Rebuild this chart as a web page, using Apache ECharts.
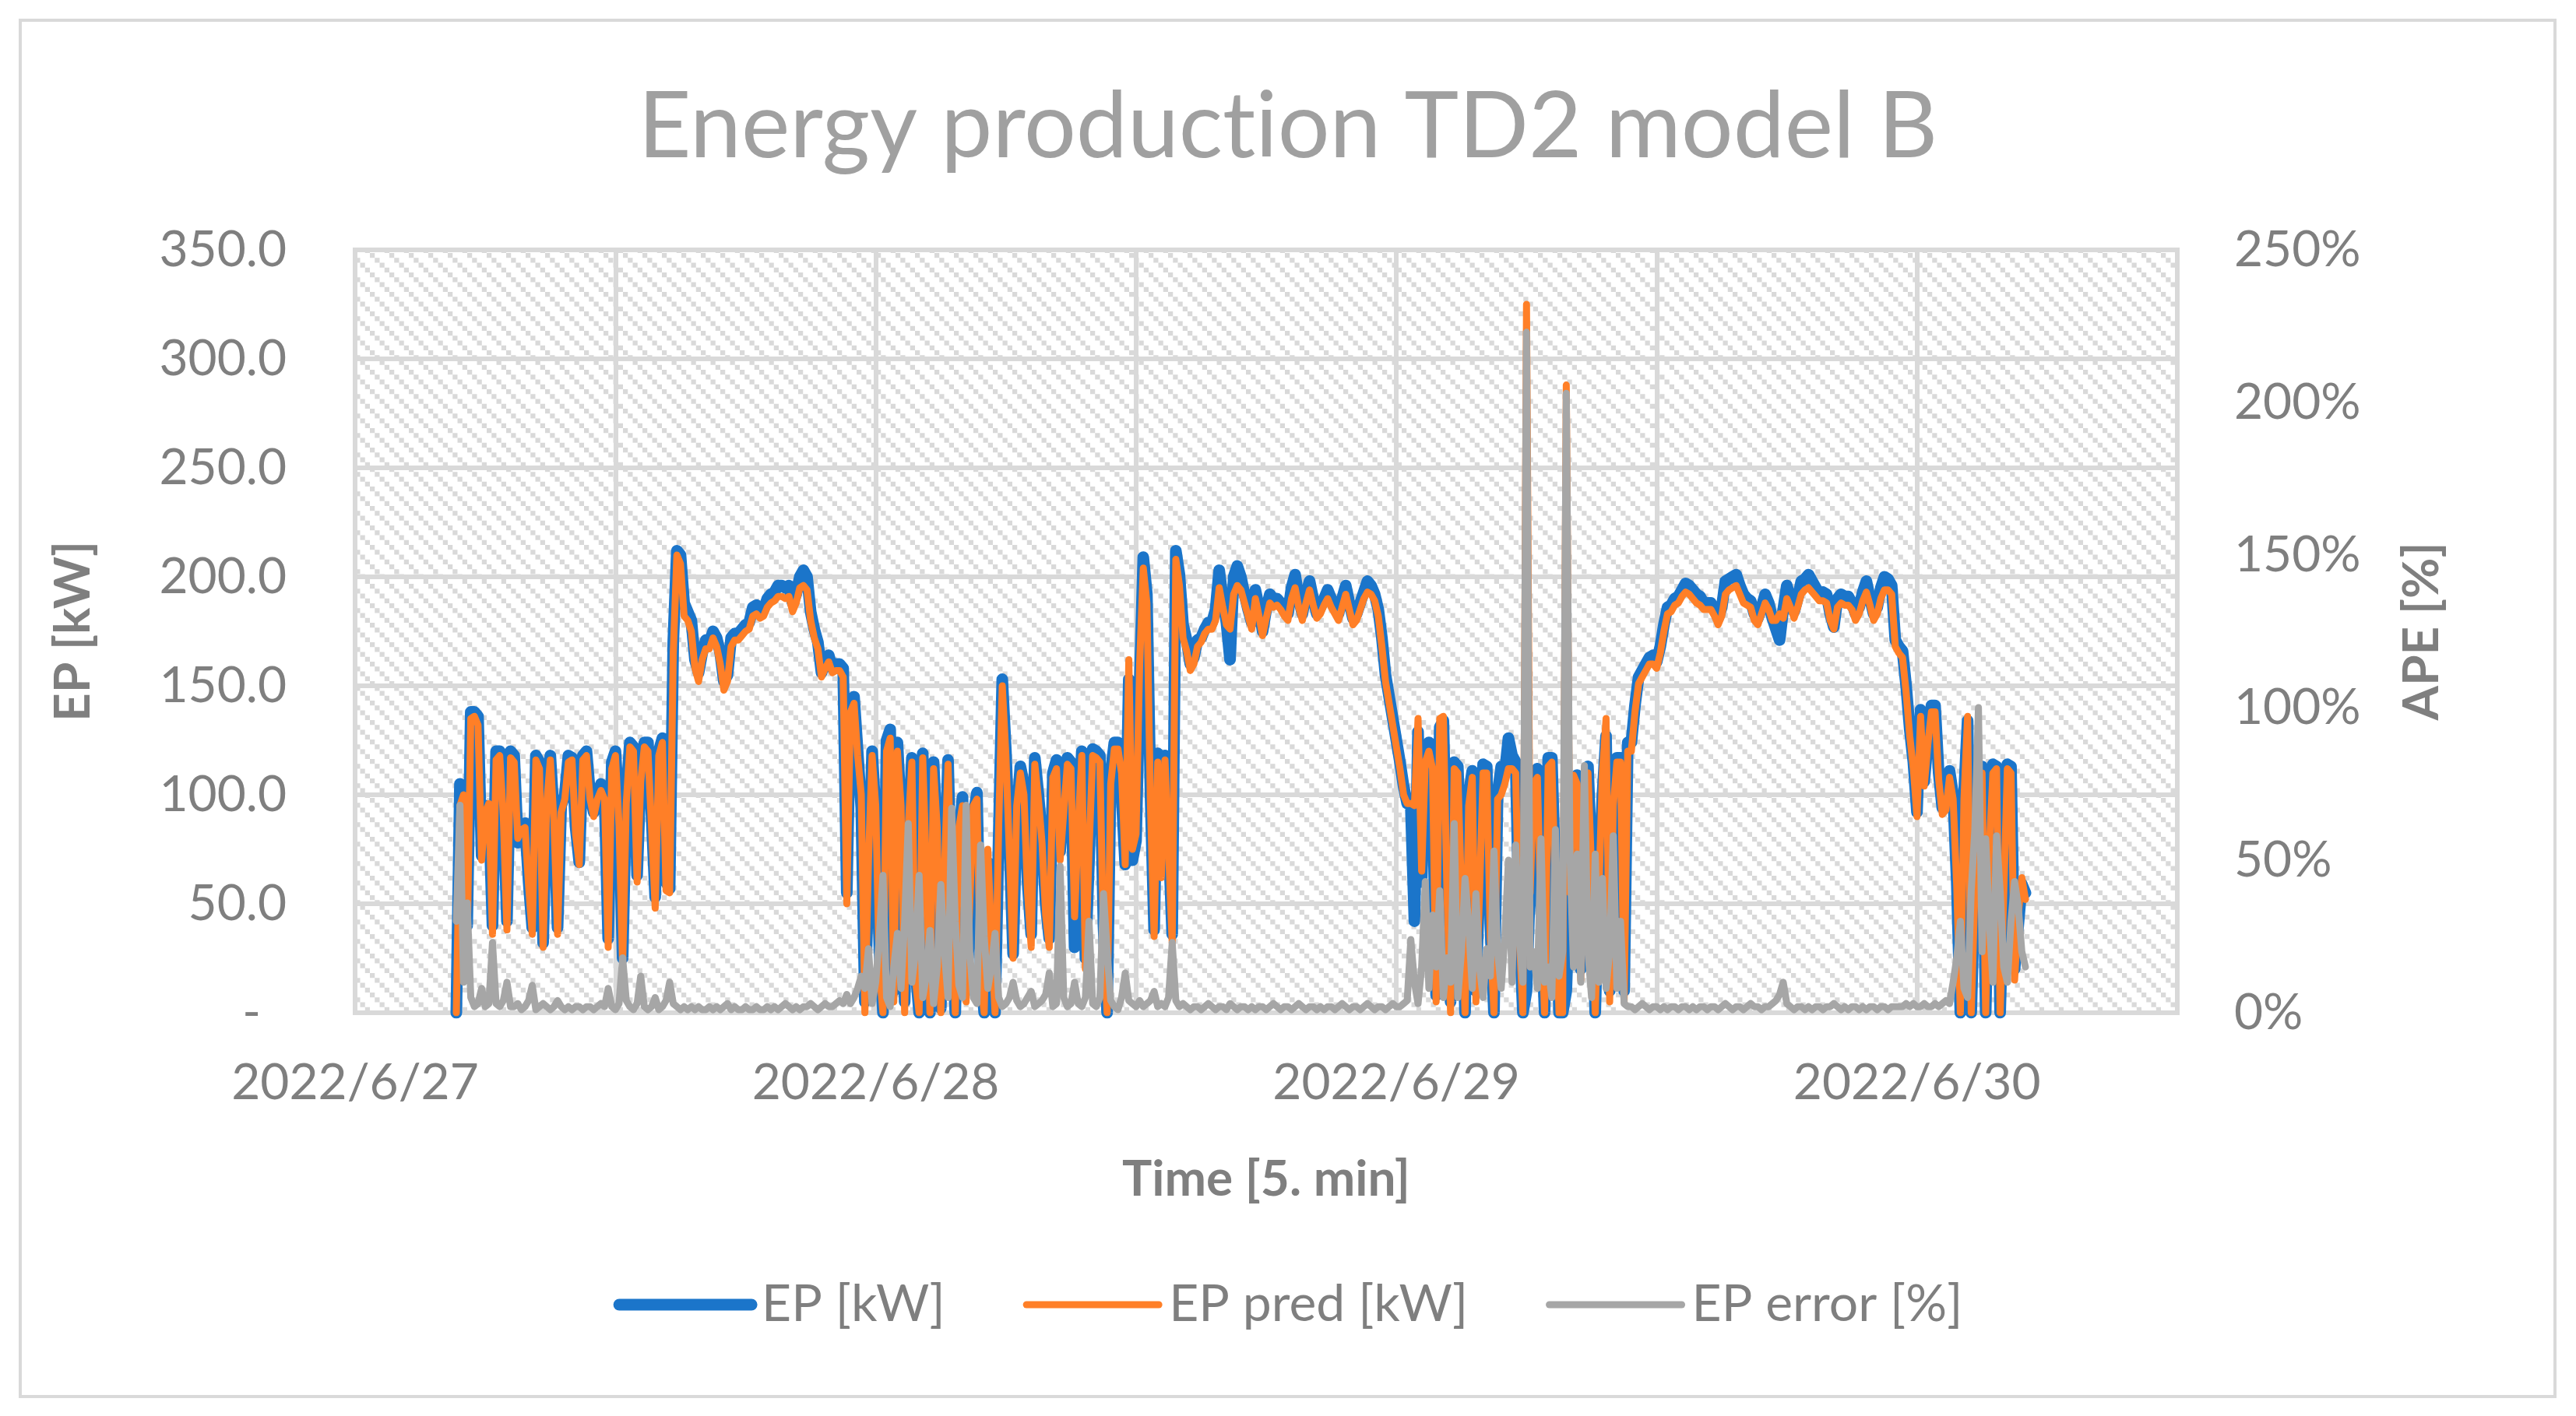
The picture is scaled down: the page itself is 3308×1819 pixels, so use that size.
<!DOCTYPE html>
<html>
<head>
<meta charset="utf-8">
<script src="https://cdn.jsdelivr.net/npm/echarts@6/dist/echarts.min.js"></script>
<style>
html,body{margin:0;padding:0;background:#fff;}
#chart{width:3308px;height:1819px;}
</style>
</head>
<body>
<div id="chart"></div>
<script>
// ---- Data (5-min source, read at 10-minute resolution) ----
const startHour = 4 + 40 / 60;      // 2022/6/27 04:40, hours since 2022/6/27 00:00
const stepHours = 10 / 60;          // 10 minutes
const xTickLabels = ['2022/6/27', '2022/6/28', '2022/6/29', '2022/6/30'];
const seriesNames = ['EP [kW]', 'EP pred [kW]', 'EP error [%]'];

const epKW = [
0,105,104,40,138,138,136,72,95,94,
40,120,120,95,42,120,118,78,86,87,
60,39,118,115,32,100,118,90,39,95,
100,118,117,85,69,118,120,100,92,100,
105,100,34,115,120,90,25,100,124,122,
63,110,124,124,90,53,120,126,60,57,
170,212,210,188,184,180,162,156,165,171,
170,175,172,165,152,155,172,174,174,176,
178,179,186,187,184,185,190,192,193,196,
196,195,196,188,192,200,203,200,184,176,
170,156,162,164,158,160,160,158,55,140,
145,120,94,5,60,120,90,30,0,125,
130,10,124,90,5,80,117,20,0,119,
60,0,115,80,2,60,116,50,0,80,
99,10,40,90,101,20,0,69,40,0,
80,153,120,77,27,90,113,105,60,36,
117,100,81,50,34,110,116,74,95,117,
115,30,80,120,25,70,121,120,118,40,
0,110,124,124,100,68,153,70,79,150,
209,192,100,38,119,66,118,80,36,212,
201,178,171,160,163,171,172,176,179,179,
185,203,190,179,162,200,205,200,192,185,
179,194,186,175,185,192,190,190,188,185,
183,195,201,190,183,192,198,190,183,186,
190,194,190,186,183,190,196,188,181,183,
188,193,198,196,192,185,172,155,145,135,
125,115,104,96,95,42,129,60,120,124,
110,8,131,134,60,5,115,113,60,0,
100,111,10,60,114,113,40,0,100,113,
110,126,118,115,40,0,10,60,110,112,
50,0,117,117,60,0,0,10,60,105,
109,20,80,113,70,0,60,100,127,10,
100,117,117,10,124,124,141,154,157,160,
163,164,161,168,178,186,187,190,191,194,
197,196,194,192,191,188,188,188,185,181,
186,198,199,200,201,196,192,190,189,183,
181,186,192,188,181,176,171,185,196,190,
184,190,198,199,201,198,195,192,193,192,
183,177,190,192,191,191,188,183,186,193,
198,190,183,186,195,200,199,196,171,168,
166,150,130,115,92,139,106,125,141,141,
110,94,96,111,100,60,0,100,134,0,
60,100,113,0,80,114,113,0,60,114,
113,20,40,59,55
];

const epPredKW = [
0,95,100,30,135,136,132,70,92,96,
36,116,118,90,38,117,115,80,84,85,
58,36,116,112,30,96,116,88,36,92,
98,115,116,82,68,116,118,98,90,98,
102,98,30,112,118,86,22,96,122,120,
60,106,122,120,85,48,118,124,56,55,
165,210,206,182,180,175,158,152,162,167,
167,172,168,160,148,152,168,171,171,173,
175,176,182,183,181,182,186,188,189,191,
191,190,191,184,188,195,196,194,180,172,
167,154,158,161,156,157,157,154,50,138,
142,118,100,0,70,118,95,20,0,120,
126,5,120,95,0,85,115,15,0,117,
65,0,112,85,0,65,114,55,0,85,
95,5,50,95,98,15,0,75,35,0,
85,150,118,72,25,95,110,100,55,30,
114,98,78,45,30,108,112,70,92,114,
112,44,85,118,20,75,118,117,115,35,
0,105,121,121,110,68,162,75,82,160,
204,188,95,35,115,62,116,75,32,208,
196,172,166,157,160,168,170,174,176,176,
180,195,186,178,176,192,196,194,188,182,
176,190,182,173,181,188,186,187,185,182,
180,190,195,186,180,188,194,187,181,183,
187,190,186,183,180,186,192,185,178,180,
185,190,193,192,189,182,168,152,142,132,
122,112,100,96,96,95,135,65,115,120,
112,5,135,136,55,0,112,110,55,0,
95,108,5,55,110,110,35,0,98,100,
105,112,112,110,35,0,325,55,105,108,
45,0,113,115,55,0,0,288,55,109,
105,15,75,110,65,0,55,110,135,5,
95,115,115,5,120,120,138,151,154,157,
160,160,158,165,175,183,184,187,188,191,
193,192,190,188,187,185,185,185,182,178,
182,192,194,195,196,192,188,187,186,180,
178,183,188,185,180,180,183,181,190,186,
181,186,192,194,195,193,191,189,189,188,
180,176,186,188,187,187,185,180,183,189,
193,187,180,183,190,194,194,192,168,165,
163,147,127,112,90,136,104,123,138,138,
107,91,93,108,98,58,0,98,136,0,
55,96,110,0,75,110,112,0,55,112,
110,15,45,62,52
];

const apePct = [
30,68,10,36,5,2,3,8,2,3,
23,3,2,4,10,2,2,3,1,2,
4,9,1,2,3,2,1,2,4,2,
1,2,1,2,2,1,2,2,1,2,
3,2,8,2,1,3,18,4,2,1,
3,12,2,1,2,5,1,2,4,10,
3,2,1,2,1,2,1,2,1,1,
2,1,2,1,2,3,1,2,1,1,
2,1,1,2,1,1,2,1,2,1,
2,3,2,1,2,1,2,2,3,2,
1,2,3,2,2,3,4,3,6,3,
5,8,12,8,21,3,10,25,45,5,
2,15,26,8,30,62,10,20,45,5,
12,27,3,15,42,20,5,67,30,9,
5,68,20,5,3,55,25,8,15,26,
5,2,3,5,10,4,2,3,5,7,
2,3,4,6,13,2,3,48,5,2,
3,10,3,2,5,30,3,2,5,39,
20,4,2,1,5,13,4,3,2,4,
2,3,4,7,2,3,2,5,23,4,
2,3,2,1,2,2,1,2,3,2,
1,2,2,1,3,2,1,2,2,1,
2,1,2,2,1,2,3,2,1,2,
2,1,2,3,2,1,2,2,1,2,
1,2,2,1,2,3,2,1,2,2,
1,2,3,2,1,2,2,1,2,3,
2,2,3,4,24,10,3,15,43,8,
32,15,40,5,18,10,62,5,20,44,
29,8,39,15,5,21,12,53,20,8,
25,50,10,55,25,10,223,15,20,8,
57,10,15,5,60,12,20,203,53,15,
52,10,81,20,5,52,10,44,8,20,
58,8,30,3,2,2,1,2,3,2,
1,2,2,1,2,1,2,2,1,2,
2,1,2,1,2,2,1,2,2,1,
2,3,2,1,2,2,1,2,3,2,
2,1,2,2,3,4,6,10,3,2,
1,2,2,1,2,1,2,2,1,2,
2,3,2,1,2,1,2,2,1,2,
1,2,2,1,2,2,1,2,2,2,
2,3,2,3,2,2,3,2,2,3,
2,3,4,3,10,18,30,8,5,40,
60,100,20,57,30,10,58,40,15,10,
30,43,35,20,15
];

// ---- Build ----
function toPairs(arr) {
  return arr.map(function (v, i) { return [startHour + i * stepHours, v]; });
}

const FONT = 'Lato, "Open Sans", sans-serif';
const TXT = '#7F7F7F';
const GRID_C = '#D9D9D9';
const COLORS = ['#1B75CA', '#FF7F27', '#A6A6A6'];
const WIDTHS = [15, 9, 9];

// Excel-like light downward-diagonal pattern for the plot area
const TILE = 25, CELL = TILE / 4;
const pc = document.createElement('canvas');
pc.width = TILE; pc.height = TILE;
const pctx = pc.getContext('2d');
pctx.fillStyle = '#ffffff';
pctx.fillRect(0, 0, TILE, TILE);
pctx.fillStyle = '#D9D9D9';
for (let k = 0; k < 4; k++) {
  pctx.fillRect(k * CELL, k * CELL, CELL, CELL);
}

const TITLE_STYLE = { fontFamily: FONT, fontSize: 118, fontWeight: 'normal', color: '#A0A0A0' };

const chart = echarts.init(document.getElementById('chart'), null, { renderer: 'canvas' });

const option = {
  animation: false,
  backgroundColor: '#ffffff',
  title: {
    // split into rich segments so the font's "ti" ligature is not applied
    text: '{a|Energy produc}{a|t}{a|ion TD2 model B}',
    left: 'center',
    top: 100,
    textStyle: Object.assign({}, TITLE_STYLE, { rich: { a: TITLE_STYLE } })
  },
  graphic: [{
    type: 'rect', silent: true, z: -10,
    shape: { x: 26, y: 26, width: 3255, height: 1768 },
    style: { fill: 'none', stroke: GRID_C, lineWidth: 4 }
  }],
  legend: {
    data: seriesNames.map(function (n, i) {
      return { name: n, itemStyle: { opacity: 0 }, lineStyle: { width: WIDTHS[i], color: COLORS[i], cap: 'round' } };
    }),
    left: 'center',
    top: 1638,
    itemWidth: 170,
    itemHeight: 16,
    itemGap: 100,
    textStyle: { fontFamily: FONT, fontSize: 66, color: TXT, padding: [0, 0, 0, 8] }
  },
  grid: {
    left: 456, right: 512, top: 321, bottom: 518,
    show: true,
    backgroundColor: { image: pc, repeat: 'repeat' },
    borderColor: GRID_C,
    borderWidth: 6
  },
  xAxis: {
    type: 'value',
    min: 0, max: 84, interval: 12,
    name: 'Time [5. min]',
    nameLocation: 'middle',
    nameGap: 182,
    nameTextStyle: { fontFamily: FONT, fontSize: 64, fontWeight: 'bold', color: TXT },
    axisLine: { show: false },
    axisTick: { show: false },
    splitLine: { show: true, lineStyle: { color: GRID_C, width: 6 } },
    axisLabel: {
      margin: 58,
      fontFamily: FONT, fontSize: 64, color: TXT,
      showMaxLabel: true,
      formatter: function (v) {
        return (v % 24 === 0 && v / 24 < xTickLabels.length) ? xTickLabels[v / 24] : '';
      }
    }
  },
  yAxis: [{
    type: 'value',
    min: 0, max: 350, interval: 50,
    name: 'EP [kW]',
    nameLocation: 'middle',
    nameRotate: 90,
    nameGap: 330,
    nameTextStyle: { fontFamily: FONT, fontSize: 64, fontWeight: 'bold', color: TXT },
    axisLine: { show: false },
    axisTick: { show: false },
    splitLine: { show: true, lineStyle: { color: GRID_C, width: 6 } },
    axisLabel: {
      margin: 88,
      fontFamily: FONT, fontSize: 64, color: TXT,
      formatter: function (v) { return v === 0 ? '{z|-}' : v.toFixed(1); },
      rich: { z: { fontFamily: FONT, fontSize: 64, color: TXT, padding: [0, 33, 0, 0] } }
    }
  }, {
    type: 'value',
    min: 0, max: 250, interval: 50,
    name: 'APE [%]',
    nameLocation: 'middle',
    nameRotate: 90,
    nameGap: 282,
    nameTextStyle: { fontFamily: FONT, fontSize: 64, fontWeight: 'bold', color: TXT },
    axisLine: { show: false },
    axisTick: { show: false },
    splitLine: { show: false },
    axisLabel: {
      margin: 73,
      fontFamily: FONT, fontSize: 64, color: TXT,
      formatter: function (v) { return v + '%'; }
    }
  }],
  series: [{
    name: seriesNames[0],
    type: 'line',
    data: toPairs(epKW),
    showSymbol: false, symbol: 'none',
    lineStyle: { color: COLORS[0], width: WIDTHS[0], cap: 'round', join: 'round' },
    itemStyle: { color: COLORS[0] },
    z: 2
  }, {
    name: seriesNames[1],
    type: 'line',
    data: toPairs(epPredKW),
    showSymbol: false, symbol: 'none',
    lineStyle: { color: COLORS[1], width: WIDTHS[1], cap: 'round', join: 'round' },
    itemStyle: { color: COLORS[1] },
    z: 3
  }, {
    name: seriesNames[2],
    type: 'line',
    yAxisIndex: 1,
    data: toPairs(apePct),
    showSymbol: false, symbol: 'none',
    lineStyle: { color: COLORS[2], width: WIDTHS[2], cap: 'round', join: 'round' },
    itemStyle: { color: COLORS[2] },
    z: 4
  }]
};
chart.setOption(option);
</script>
</body>
</html>
